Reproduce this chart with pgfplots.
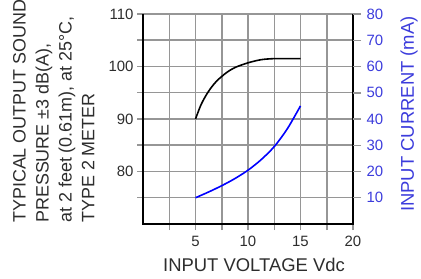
\documentclass[border=0pt]{standalone}
\usepackage{pgfplots}
\pgfplotsset{compat=1.18}
\usepackage{fontspec}
\setmainfont{Liberation Sans}
\definecolor{gridgray}{RGB}{150,150,150}
\definecolor{txt}{RGB}{45,45,45}
\definecolor{lblue}{RGB}{60,60,220}
\begin{document}
\begin{tikzpicture}
\begin{axis}[
  at={(143bp,55bp)}, anchor=south west,
  scale only axis, width=210bp, height=210bp,
  xmin=0, xmax=20, ymin=70, ymax=110,
  axis line style={draw=none},
  xtick={5,10,15,20}, minor xtick={2.5,7.5,12.5,17.5},
  ytick={80,90,100,110}, minor ytick={75,85,95,105},
  grid=both,
  major grid style={gridgray, line width=1.5bp},
  minor grid style={gridgray, line width=1.5bp},
  tick style={gridgray, line width=1.5bp},
  tick align=outside, major tick length=6bp, minor tick length=6bp,
  xtick pos=bottom, ytick pos=left,
  ticklabel style={font=\fontsize{15}{15}\selectfont, text=txt},
  xticklabel style={yshift=-3bp},
  /pgf/number format/assume math mode=true,
  clip=false,
]
\addplot[black, line width=1.6bp, smooth] coordinates {
 (5,90) (5.5,92.6) (6,94.5) (6.5,96) (7,97.2) (7.5,98.1) (8,98.9)
 (8.75,99.8) (10,100.7) (11.25,101.3) (12.5,101.5) (13.75,101.5) (15,101.5)};
\draw[black, line width=1.8bp] (axis cs:0,110) -- (axis cs:0,70) -- (axis cs:20,70) -- (axis cs:20,110);
\end{axis}
\begin{axis}[
  at={(143bp,55bp)}, anchor=south west,
  scale only axis, width=210bp, height=210bp,
  xmin=0, xmax=20, ymin=0, ymax=80,
  axis line style={draw=none},
  xtick=\empty,
  ytick={10,20,30,40,50,60,70,80},
  ytick pos=right,
  tick style={gridgray, line width=1.5bp},
  tick align=outside, major tick length=8bp,
  yticklabel style={font=\fontsize{15}{15}\selectfont, text=lblue, xshift=2bp},
  /pgf/number format/assume math mode=true,
  clip=false,
]
\addplot[blue, line width=1.6bp, smooth] coordinates {
 (5,10) (6.25,12.2) (7.5,14.6) (8.75,17.3) (10,20.5) (11.25,24.5) (12.5,29.5) (13.75,36.3) (15,45)};
\end{axis}
\node[rotate=90, anchor=north west, align=left, inner sep=0pt,
  font=\fontsize{18}{23}\selectfont, text=txt] at (13bp,56bp)
  {TYPICAL OUTPUT SOUND\\PRESSURE ±3 dB(A),\\at 2 feet (0.61m), at 25°C,\\TYPE 2 METER};
\node[rotate=90, anchor=center, inner sep=0pt,
  font=\fontsize{18.5}{20}\selectfont, text=lblue] at (409bp,165bp) {INPUT CURRENT (mA)};
\node[anchor=base, inner sep=0pt,
  font=\fontsize{18.5}{20}\selectfont, text=txt] at (254bp,8bp) {INPUT VOLTAGE Vdc};
\pgfresetboundingbox
\useasboundingbox (0,0) rectangle (421bp,279bp);
\end{tikzpicture}
\end{document}
